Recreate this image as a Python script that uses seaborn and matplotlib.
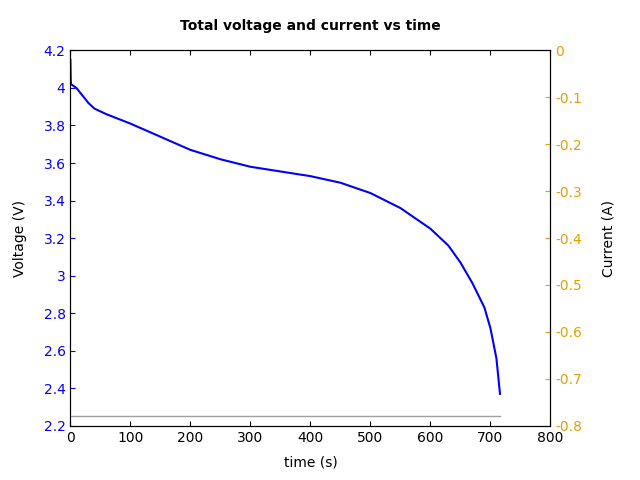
import matplotlib
matplotlib.use('Agg')
import matplotlib.pyplot as plt
import seaborn as sns
import pandas as pd

# Voltage curve
time_s = [0, 0.5, 1, 10, 20, 30, 40, 60, 100, 150, 200, 250, 300, 350, 400, 450,
          500, 550, 600, 630, 650, 670, 690, 700, 710, 716]
voltage_v = [4.15, 4.05, 4.02, 4.00, 3.96, 3.92, 3.89, 3.86, 3.81, 3.74, 3.67, 3.62,
             3.58, 3.555, 3.53, 3.495, 3.44, 3.36, 3.25, 3.16, 3.07, 2.96, 2.83,
             2.72, 2.56, 2.37]
# Constant discharge current
current_time = [0, 716]
current_a = [-0.78, -0.78]

df_v = pd.DataFrame({'t': time_s, 'v': voltage_v})
df_i = pd.DataFrame({'t': current_time, 'i': current_a})

fig, ax = plt.subplots(figsize=(6.4, 4.8), dpi=100)
sns.lineplot(data=df_v, x='t', y='v', ax=ax, color='blue', linewidth=1.5)
ax2 = ax.twinx()
sns.lineplot(data=df_i, x='t', y='i', ax=ax2, color='#a0a0a0', linewidth=1)

ax.set_xlim(0, 800)
ax.set_ylim(2.2, 4.2)
ax2.set_ylim(-0.8, 0)
ax.set_xticks(range(0, 801, 100))
ax.set_yticks([2.2, 2.4, 2.6, 2.8, 3, 3.2, 3.4, 3.6, 3.8, 4, 4.2])
ax.set_yticklabels(['2.2', '2.4', '2.6', '2.8', '3', '3.2', '3.4', '3.6', '3.8', '4', '4.2'])
ax2.set_yticks([-0.8, -0.7, -0.6, -0.5, -0.4, -0.3, -0.2, -0.1, 0])
ax2.set_yticklabels(['-0.8', '-0.7', '-0.6', '-0.5', '-0.4', '-0.3', '-0.2', '-0.1', '0'])

ax.tick_params(axis='both', direction='in', top=True)
ax.tick_params(axis='y', colors='blue')
ax.tick_params(axis='x', colors='black')
ax2.tick_params(axis='y', direction='in', colors='#e69f00')
for a in (ax, ax2):
    for s in a.spines.values():
        s.set_color('black')

ax.set_xlabel('time (s)', labelpad=8)
ax.set_ylabel('Voltage (V)', labelpad=12)
ax2.set_ylabel('Current (A)', labelpad=14)
ax.set_title('Total voltage and current vs time', fontsize=10, fontweight='bold', pad=15)

fig.subplots_adjust(left=0.11, right=0.86, top=0.895, bottom=0.113)
fig.savefig('out.png', dpi=100)
